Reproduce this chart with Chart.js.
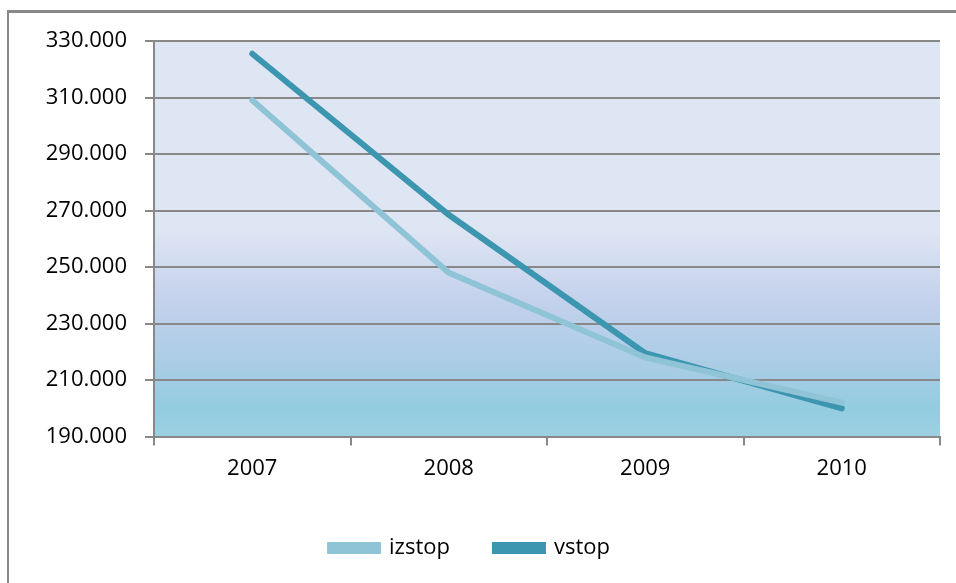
<!DOCTYPE html>
<html>
<head>
<meta charset="utf-8">
<script src="https://cdn.jsdelivr.net/npm/chart.js@4"></script>
<style>
  html, body { margin: 0; padding: 0; background: #fff; }
  #wrap { position: relative; width: 956px; height: 583px; }
</style>
</head>
<body>
<div id="wrap"><canvas id="lineChart"></canvas></div>
<script>
const years = ['2007', '2008', '2009', '2010'];
const izstop = [309000, 248000, 218000, 202000];
const vstop = [325500, 268500, 219500, 200000];
const yMin = 190000;
const yMax = 330000;
const yStep = 20000;

function formatThousands(v) {
  const thousands = Math.floor(v / 1000);
  const rest = String(v % 1000).padStart(3, '0');
  return thousands + '.' + rest;
}

// fills the plot area with the blue gradient seen behind the lines
const plotBackground = {
  id: 'plotBackground',
  beforeDraw(chart) {
    const {ctx, chartArea} = chart;
    const g = ctx.createLinearGradient(0, chartArea.top, 0, chartArea.bottom);
    g.addColorStop(0, '#dfe6f3');
    g.addColorStop(0.48, '#dee5f3');
    g.addColorStop(0.66, '#c3d1ec');
    g.addColorStop(0.82, '#a9cde5');
    g.addColorStop(0.93, '#93cce0');
    g.addColorStop(1, '#9dd0e2');
    ctx.save();
    ctx.fillStyle = g;
    ctx.fillRect(chartArea.left, chartArea.top, chartArea.right - chartArea.left, chartArea.bottom - chartArea.top);
    ctx.restore();
  },
  afterDraw(chart) {
    // outer chart frame, only its top and left edges are inside the picture
    const ctx = chart.ctx;
    ctx.save();
    ctx.fillStyle = '#888888';
    ctx.fillRect(7, 10, chart.width - 7, 3);
    ctx.fillRect(7, 10, 2, chart.height - 10);
    ctx.restore();
  }
};

document.addEventListener('DOMContentLoaded', function() {
  const ctx = document.getElementById('lineChart').getContext('2d');
  Chart.defaults.font.family = '"Open Sans", "Noto Sans", sans-serif';
  Chart.defaults.color = '#000';

  new Chart(ctx, {
    type: 'line',
    data: {
      labels: years,
      datasets: [{
        label: 'izstop',
        data: izstop,
        borderColor: '#8fc3d6',
        backgroundColor: '#8fc3d6',
        borderWidth: 6,
        pointRadius: 0,
        tension: 0,
        borderCapStyle: 'round'
      },
      {
        label: 'vstop',
        data: vstop,
        borderColor: '#3d96b0',
        backgroundColor: '#3d96b0',
        borderWidth: 6,
        pointRadius: 0,
        tension: 0,
        borderCapStyle: 'round'
      }]
    },
    options: {
      responsive: true,
      maintainAspectRatio: false,
      animation: false,
      layout: { padding: { top: 41, right: 16, left: 0, bottom: 14 } },
      scales: {
        x: {
          offset: true,
          grid: {
            offset: true,
            drawOnChartArea: false,
            color: '#888',
            lineWidth: 2,
            tickLength: 9
          },
          border: { color: '#888', width: 2 },
          ticks: { padding: 10, font: { size: 22 } }
        },
        y: {
          min: yMin,
          max: yMax,
          afterFit(scale) { scale.width = 154; },
          grid: { color: '#888', lineWidth: 2, tickLength: 9 },
          border: { color: '#888', width: 2 },
          ticks: {
            stepSize: yStep,
            padding: 18,
            font: { size: 22 },
            callback: v => formatThousands(v)
          }
        }
      },
      plugins: {
        legend: {
          position: 'bottom',
          labels: {
            boxWidth: 48,
            boxHeight: 6,
            padding: 45,
            font: { size: 22 }
          }
        },
        tooltip: { enabled: false }
      }
    },
    plugins: [plotBackground]
  });
});
</script>
</body>
</html>
